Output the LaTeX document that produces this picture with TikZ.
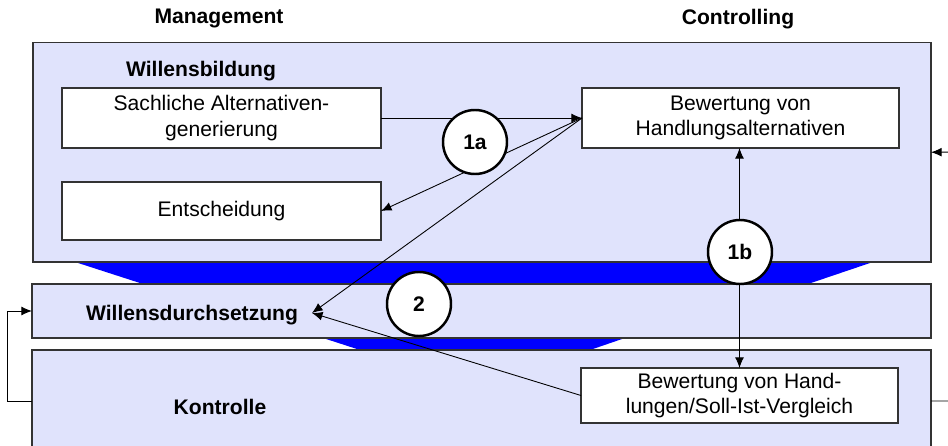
\documentclass[tikz,border=0pt]{standalone}
\usepackage{fontspec}
\setmainfont{Liberation Sans}
\usetikzlibrary{arrows.meta}
\definecolor{boxfill}{RGB}{224,227,252}
\definecolor{boxline}{RGB}{51,51,51}
\definecolor{bandblue}{RGB}{0,0,255}
\def\px{0.02cm}
\tikzset{
  band/.style={draw=none,fill=bandblue},
  phase/.style={draw=boxline,line width=0.7pt,fill=boxfill,inner sep=0pt,outer sep=0pt},
  task/.style={draw=boxline,line width=0.7pt,fill=white,inner sep=0pt,outer sep=0pt,align=center,
    font=\fontsize{12pt}{14.5pt}\selectfont},
  marker/.style={circle,draw=black,line width=1.4pt,fill=white,inner sep=0pt,outer sep=0pt,
    minimum size=64*\px,font=\fontsize{12pt}{14pt}\selectfont\bfseries},
  heading/.style={font=\fontsize{12pt}{14pt}\selectfont\bfseries,inner sep=0pt},
  flow/.style={line width=0.5pt,-{Latex[length=6pt,width=5pt]}},
  plain/.style={line width=0.5pt}
}
\begin{document}
\begin{tikzpicture}[x=0.02cm,y=-0.02cm]
\path[use as bounding box,clip] (0,0) rectangle (948,446);
\fill[white] (0,0) rectangle (948,446);
% blue bands
\path[band] (75,262) -- (873,262) -- (808,284) -- (143,284) -- cycle;
\path[band] (323,338) -- (625,338) -- (590,350) -- (360,350) -- cycle;
% phase boxes
\node[phase,minimum width=898*\px,minimum height=219.5*\px] (wb) at (482,152.25) {};
\node[phase,minimum width=899*\px,minimum height=54*\px] (wd) at (481.5,311) {};
\node[phase,minimum width=899*\px,minimum height=130*\px] (ko) at (481.5,415) {};
% headings
\node[heading] (hm) at (219,18) {Management};
\node[heading] (hc) at (738,19) {Controlling};
\node[heading] (lwb) at (201,71) {Willensbildung};
\node[heading] (lwd) at (192,315) {Willensdurchsetzung};
\node[heading] (lko) at (220,407) {Kontrolle};
% task boxes
\node[task,minimum width=319*\px,minimum height=60*\px] (sa) at (221.5,118) {Sachliche Alternativen-\\generierung};
\node[task,minimum width=319*\px,minimum height=58*\px] (en) at (221.5,211) {Entscheidung};
\node[task,minimum width=317*\px,minimum height=60*\px] (bh) at (740.5,118) {Bewertung von\\Handlungsalternativen};
\node[task,minimum width=317*\px,minimum height=55*\px] (bv) at (739.5,395.5) {Bewertung von Hand-\\lungen/Soll-Ist-Vergleich};
% helper coordinates
\coordinate (wdp) at (312,313);
\coordinate (kl) at (32,401);
\coordinate (kr) at (931,401);
% connectors
\draw[flow] (sa.east) -- (bh.west);
\draw[flow] (bh.west) -- (en.east);
\draw[flow] (bh.west) -- (wdp);
\draw[flow] (bv.west) -- (wdp);
\draw[flow,{Latex[length=6pt,width=5pt]}-{Latex[length=6pt,width=5pt]}] (bv.north) -- (bv.north |- bh.south);
\draw[flow] (kl) -- (7,401) -- (7,311) -- (wd.west);
\draw[flow] (kr) -- (975,401) -- (975,152) -- (wb.east);
% markers
\node[marker] (c1a) at (475,142) {1a};
\node[marker] (c1b) at (740,252) {1b};
\node[marker] (c2) at (419,304) {2};
\end{tikzpicture}
\end{document}
